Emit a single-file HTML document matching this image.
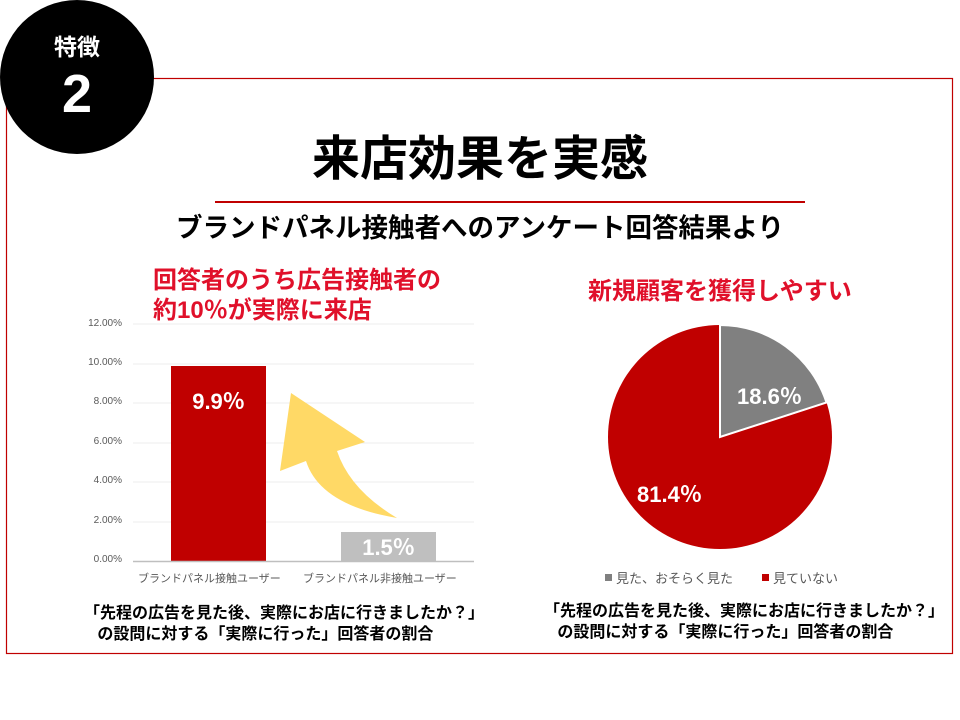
<!DOCTYPE html>
<html><head><meta charset="utf-8"><style>
body{margin:0;width:960px;height:720px;background:#fff;position:relative;overflow:hidden;font-family:"Liberation Sans","Noto Sans CJK JP",sans-serif}
.t{position:absolute;white-space:nowrap}
</style></head><body>
<svg width="960" height="720" style="position:absolute;left:0;top:0">
<rect x="6.5" y="78.5" width="946" height="575" fill="none" stroke="#C00000" stroke-width="1.2"/>
<circle cx="77" cy="77" r="77" fill="#000"/>
<line x1="215" y1="202" x2="805" y2="202" stroke="#C00000" stroke-width="2"/>
<g stroke="#ececec" stroke-width="1">
<line x1="133" y1="324" x2="474" y2="324"/><line x1="133" y1="364" x2="474" y2="364"/>
<line x1="133" y1="403" x2="474" y2="403"/><line x1="133" y1="443" x2="474" y2="443"/>
<line x1="133" y1="482" x2="474" y2="482"/><line x1="133" y1="522" x2="474" y2="522"/>
</g>
<rect x="171" y="366" width="95" height="195" fill="#C00000"/>
<rect x="341" y="532" width="95" height="29" fill="#BFBFBF"/>
<line x1="133" y1="561.5" x2="474" y2="561.5" stroke="#bfbfbf" stroke-width="1.5"/>
<path d="M291,393 L365,442 L337,451 Q350,490 397,518 Q320,505 306,461 L280,471 Z" fill="#FFD966"/>
<circle cx="720" cy="437" r="112" fill="#C00000"/>
<path d="M720,437 L720,325 A112,112 0 0 1 826.5,402.5 Z" fill="#808080" stroke="#fff" stroke-width="2"/>
<rect x="605" y="574" width="7" height="7" fill="#808080"/>
<rect x="762" y="574" width="7" height="7" fill="#C00000"/>
</svg>
<div class="t" style="left:0;width:154px;text-align:center;top:32px;color:#fff;font-size:23px;font-weight:bold;line-height:30px">特徴</div>
<div class="t" style="left:0;width:154px;text-align:center;top:64px;color:#fff;font-size:54px;font-weight:bold;line-height:60px">2</div>
<div class="t" style="left:0;width:960px;text-align:center;top:130px;font-size:48px;font-weight:bold;color:#000;line-height:60px">来店効果を実感</div>
<div class="t" style="left:0;width:960px;text-align:center;top:210px;font-size:26.5px;font-weight:bold;color:#000;line-height:36px">ブランドパネル接触者へのアンケート回答結果より</div>
<div class="t" style="left:153px;top:266px;font-size:24px;font-weight:bold;color:#E0102A;line-height:30px">回答者のうち広告接触者の<br>約10％が実際に来店</div>
<div class="t" style="left:588px;top:277px;font-size:24px;font-weight:bold;color:#E0102A;line-height:30px">新規顧客を獲得しやすい</div>
<div class="t" style="left:60px;width:62px;text-align:right;top:317px;font-size:10px;color:#595959;line-height:14px">12.00%</div>
<div class="t" style="left:60px;width:62px;text-align:right;top:357px;font-size:10px;color:#595959">10.00%</div>
<div class="t" style="left:60px;width:62px;text-align:right;top:396px;font-size:10px;color:#595959">8.00%</div>
<div class="t" style="left:60px;width:62px;text-align:right;top:436px;font-size:10px;color:#595959">6.00%</div>
<div class="t" style="left:60px;width:62px;text-align:right;top:475px;font-size:10px;color:#595959">4.00%</div>
<div class="t" style="left:60px;width:62px;text-align:right;top:515px;font-size:10px;color:#595959">2.00%</div>
<div class="t" style="left:60px;width:62px;text-align:right;top:554px;font-size:10px;color:#595959">0.00%</div>
<div class="t" style="left:171px;width:95px;text-align:center;top:384px;font-size:22px;font-weight:bold;color:#fff">9.9％</div>
<div class="t" style="left:341px;width:95px;text-align:center;top:530px;font-size:22px;font-weight:bold;color:#fff">1.5％</div>
<div class="t" style="left:138px;top:570px;font-size:11px;color:#595959">ブランドパネル接触ユーザー</div>
<div class="t" style="left:303px;top:570px;font-size:11px;color:#595959">ブランドパネル非接触ユーザー</div>
<div class="t" style="left:737px;top:379px;font-size:22px;font-weight:bold;color:#fff">18.6％</div>
<div class="t" style="left:637px;top:477px;font-size:22px;font-weight:bold;color:#fff">81.4％</div>
<div class="t" style="left:616px;top:568px;font-size:13px;color:#595959">見た、おそらく見た</div>
<div class="t" style="left:773px;top:568px;font-size:13px;color:#595959">見ていない</div>
<div class="t" style="left:84px;top:603px;font-size:16px;font-weight:bold;color:#000;line-height:21px">「先程の広告を見た後、実際にお店に行きましたか？」<br>&nbsp;&nbsp;&nbsp;の設問に対する「実際に行った」回答者の割合</div>
<div class="t" style="left:544px;top:601px;font-size:16px;font-weight:bold;color:#000;line-height:21px">「先程の広告を見た後、実際にお店に行きましたか？」<br>&nbsp;&nbsp;&nbsp;の設問に対する「実際に行った」回答者の割合</div>
</body></html>
